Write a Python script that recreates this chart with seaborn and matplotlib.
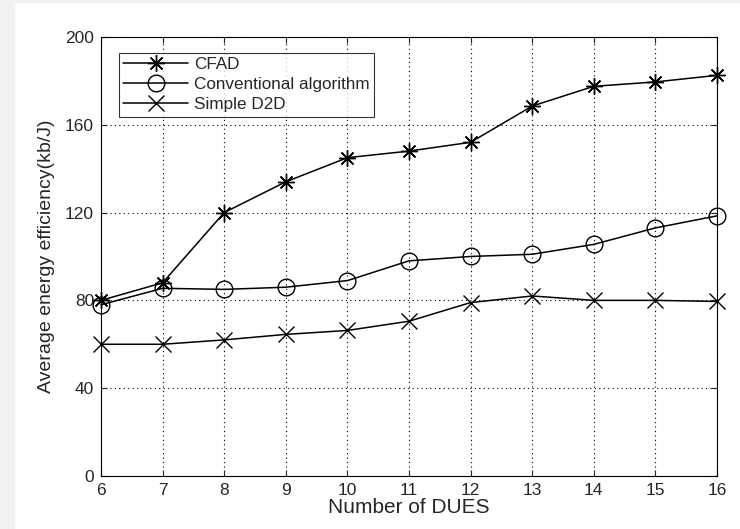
import pandas as pd
import seaborn as sns
import matplotlib.pyplot as plt
from matplotlib.patches import Rectangle

# Dados
dues = [6, 7, 8, 9, 10, 11, 12, 13, 14, 15, 16]
cfad = [80, 88, 120, 134, 145, 148, 152, 168.5, 177.5, 179.5, 182.5]
convencional = [78, 85.5, 85, 86, 89, 98, 100, 101, 105.5, 113, 118.5]
simples_d2d = [60, 60, 62, 64.5, 66.3, 70.5, 79, 82, 80, 80, 79.5]

nomes = ["CFAD", "Conventional algorithm", "Simple D2D"]
marcadores = [(8, 2, 0), "o", "x"]
tamanhos = [12, 12, 11]

df = pd.DataFrame({
    "DUES": dues * 3,
    "Valor": cfad + convencional + simples_d2d,
    "Serie": [n for n in nomes for _ in dues],
})

sns.set_style("white")
plt.rcParams["font.family"] = ["Liberation Sans", "DejaVu Sans"]

fig = plt.figure(figsize=(7.4, 5.29), dpi=100)
# faixa cinza da página (borda esquerda e topo)
fig.patches.append(Rectangle((0, 0), 0.019, 1, transform=fig.transFigure,
                             color="#f1f1f1", zorder=-1))
fig.patches.append(Rectangle((0, 0.996), 1, 0.004, transform=fig.transFigure,
                             color="#f1f1f1", zorder=-1))

ax = fig.add_axes([0.1365, 0.1002, 0.8324, 0.8300])

for nome, m, s in zip(nomes, marcadores, tamanhos):
    sns.lineplot(data=df[df["Serie"] == nome], x="DUES", y="Valor", ax=ax,
                 color="black", linewidth=1.1, marker=m, markersize=s,
                 markerfacecolor="none", markeredgecolor="black",
                 markeredgewidth=1.0, label=nome, clip_on=False)

ax.set_xlim(6, 16)
ax.set_ylim(0, 200)
ax.set_xticks(dues)
ax.set_yticks([0, 40, 80, 120, 160, 200])
ax.grid(True, linestyle=(0, (1, 3)), color="black", linewidth=0.8)
ax.tick_params(direction="in", labelsize=12.5, length=4, top=True, right=True,
               bottom=True, left=True, labeltop=False, labelright=False, pad=5)
for sp in ax.spines.values():
    sp.set_color("black")
    sp.set_linewidth(0.8)

ax.set_xlabel("Number of DUES", fontsize=15, labelpad=0)
ax.set_ylabel("Average energy efficiency(kb/J)", fontsize=14, labelpad=7)

leg = ax.legend(loc="upper left", bbox_to_anchor=(0.029, 0.9636), borderaxespad=0,
                fontsize=12.3, handlelength=3.8, frameon=True, fancybox=False,
                borderpad=0.25, labelspacing=0.3, handletextpad=0.35)
leg.get_frame().set_edgecolor("black")
leg.get_frame().set_linewidth(0.8)

fig.savefig("out.png", dpi=100)
